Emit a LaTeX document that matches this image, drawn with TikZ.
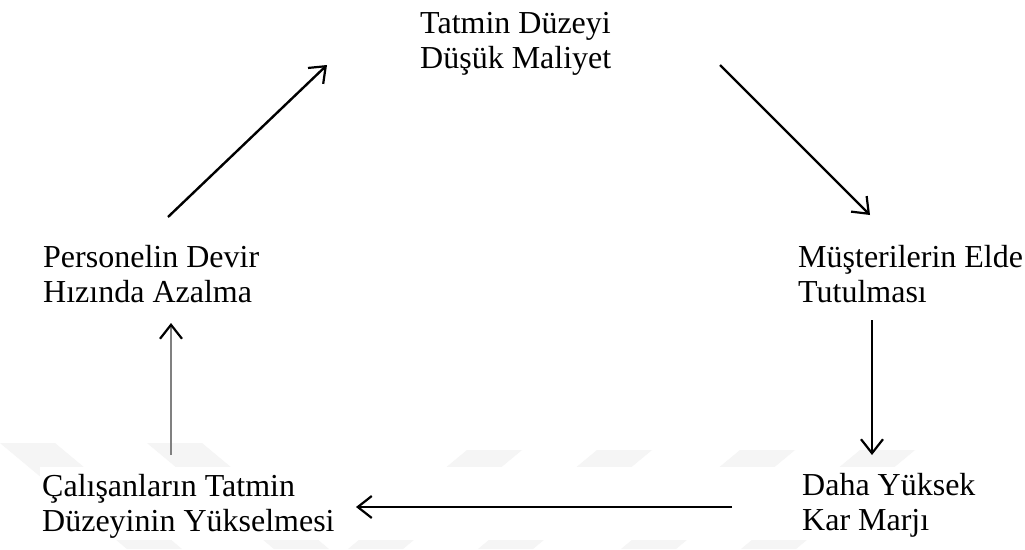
\documentclass[tikz,border=0pt]{standalone}
\usepackage{fontspec}
\setmainfont{Liberation Serif}
\usetikzlibrary{arrows.meta,calc}
\begin{document}
\begin{tikzpicture}[x=1pt,y=-1pt,
  lbl/.style={anchor=base west, inner sep=0pt, align=left, font=\fontsize{32}{35}\selectfont},
  tip/.style={-{Straight Barb[length=14pt,width=22pt,line width=2.2pt,color=black]}},
  arr/.style={tip, line width=2.4pt, draw=black},
  grayarr/.style={tip, line width=2.8pt, draw=black!50},
  wm/.style={fill=black!4, draw=none}]
\useasboundingbox (0,0) rectangle (1025,549);
\fill[white] (0,0) rectangle (1025,549);
% faint watermark
\foreach \x in {467,597,740,860}{
  \fill[wm] (\x,450) -- (\x+55,450) -- (\x-64,549) -- (\x-119,549) -- cycle;
}
\foreach \x in {0,147}{
  \fill[wm] (\x,443) -- (\x+55,443) -- (\x+182,549) -- (\x+127,549) -- cycle;
}
\fill[white] (40,467) rectangle (1025,540);
% labels (anchored at the baseline of their last line)
\node[lbl] (top) at (420,68) {Tatmin Düzeyi\\Düşük Maliyet};
\node[lbl] (per) at (43,302) {Personelin Devir\\Hızında Azalma};
\node[lbl] (mus) at (798,302) {Müşterilerin Elde\\Tutulması};
\node[lbl] (cal) at (42,531) {Çalışanların Tatmin\\Düzeyinin Yükselmesi};
\node[lbl] (daha) at (802,530) {Daha Yüksek\\Kar Marjı};
% connectors
\draw[arr] ($(per.base west)+(125,-85)$) -- ($(top.base west)+(-93,-3)$);
\draw[arr] ($(top.base west)+(300,-3)$) -- ($(mus.base west)+(72,-87)$);
\draw[arr] ($(mus.base west)+(74,18)$) -- ($(daha.base west)+(70,-75)$);
\draw[arr] ($(daha.base west)+(-70,-23)$) -- ($(cal.base west)+(314,-24)$);
\draw[grayarr] ($(cal.base west)+(129,-76)$) -- ($(per.base west)+(128,21)$);
\end{tikzpicture}
\end{document}
